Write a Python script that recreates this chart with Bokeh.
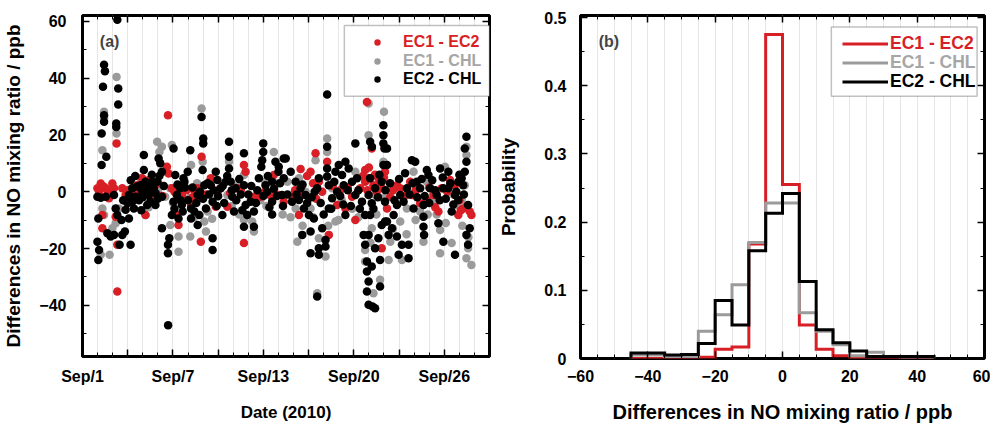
from bokeh.plotting import figure
from bokeh.models import (FixedTicker, LinearAxis, Legend, LegendItem, BoxAnnotation,
                          Label, Range1d)
from bokeh.core.properties import value
from bokeh.layouts import row
from bokeh.embed import file_html
from bokeh.resources import INLINE

# ---------------- data ----------------
# panel (a): differences in NO mixing ratio (ppb) vs days since Sep 1, 2010
ec1_ec2_day = [2.26, 5.67, 2.31, 0.99, 1.21, 1.54, 1.98, 2.09, 1.76, 1.32, 1.32, 2.31, 2.20, 2.64,
               2.86, 3.30, 3.63, 3.96, 4.40, 4.73, 4.18, 5.05, 5.60, 5.71, 5.93, 6.26, 6.37, 6.59,
               1.10, 1.40, 1.65, 1.90,
               7.90, 7.85, 10.71, 10.71, 10.82, 7.64, 7.20, 8.84, 9.61, 8.51, 10.27, 11.37, 11.81,
               13.00, 13.35, 12.69, 7.30, 7.50, 7.40,
               18.87, 19.19, 15.46, 14.47, 15.13, 16.23, 16.34, 18.10, 18.75, 18.98, 19.30, 19.63,
               19.85, 20.07, 19.52, 16.89, 17.44, 15.68, 15.90, 14.58, 13.92, 17.88, 18.43, 18.75,
               19.85, 14.36, 18.60, 19.00, 19.40, 19.70, 20.00, 18.90, 14.90, 15.30, 15.50,
               20.86, 21.08, 21.74, 21.85, 22.40, 22.84, 23.28, 23.61, 23.83, 24.38, 24.71, 25.25,
               25.69, 25.80, 24.93, 20.42, 20.20, 20.60, 21.30, 23.40, 25.50, 25.10,
               3.00, 3.50, 4.30, 5.30, 6.10, 6.90, 8.20, 9.00, 9.80, 10.50, 12.10, 12.50, 14.10,
               16.60, 17.10, 17.60, 21.50, 22.10, 23.00, 24.20, 25.00]
ec1_ec2_val = [17.0, 26.9, -35.1, 1.2, 2.9, 1.2, 2.9, 1.2, -2.3, -8.2, -12.9, -18.7, -8.8, 1.2,
               -1.2, -1.8, 2.3, 4.7, 4.1, -1.2, -8.2, 2.9, 8.8, 6.4, 1.2, -8.2, -11.7, -1.2,
               0.0, 1.8, 0.5, -0.5,
               12.3, -17.6, -18.1, 9.4, 7.0, 1.2, -4.7, -5.3, -5.3, 4.7, 1.2, -1.8, -1.8,
               -1.2, -3.5, 5.9, -2.0, -3.5, 0.5,
               31.6, 15.2, 13.5, 8.0, 7.0, 10.5, -15.2, -10.0, 7.6, 4.7, 2.3, 4.7,
               1.2, 7.0, 0.0, -4.7, -5.9, 3.5, 0.0, -1.2, -1.8, -1.8, 1.2, 3.5,
               -19.9, -8.2, 5.5, 8.5, 6.0, 3.0, 5.0, 0.5, 5.5, 3.0, -2.5,
               2.3, 1.2, 3.5, -1.2, -4.1, -2.9, -1.2, -7.0, 1.2, 4.1, 2.3, -5.9,
               -7.0, -8.2, -8.2, -1.8, -5.9, 0.5, -2.0, -5.5, -5.0, -6.5,
               0.5, -0.5, 1.5, -1.5, 0.0, 0.5, -1.0, 0.5, -0.5, 0.5, 0.0, -1.5, 0.5,
               2.0, 0.5, 1.5, -1.0, 0.5, 1.5, 0.0, -3.0]

ec1_chl_day = [2.26, 1.43, 1.43, 2.26, 1.32, 1.32, 1.21, 1.43, 1.98, 2.20, 1.21, 1.80, 2.42, 2.86,
               3.85, 4.07, 4.95, 5.27, 5.10, 5.38, 5.93, 5.82, 6.37, 6.37, 5.82, 5.49, 4.62, 4.18,
               7.90, 7.97, 7.15, 8.08, 8.19, 8.30, 8.95, 9.61, 9.72, 10.71, 10.71, 11.26, 11.37,
               12.14, 12.69, 12.69, 13.28, 7.20, 7.09, 10.27,
               18.98, 20.00, 18.98, 16.23, 16.23, 15.46, 14.36, 14.14, 14.25, 15.68, 16.12, 15.57,
               16.78, 16.98, 18.75, 18.75, 19.30, 19.74, 19.19, 19.41, 19.96, 19.96, 18.10, 16.56,
               14.80, 15.13, 13.59,
               25.47, 25.47, 25.36, 25.58, 25.80, 25.47, 23.72, 23.72, 24.49, 23.28, 22.40, 21.52,
               21.08, 20.42, 20.31, 21.19, 22.62, 24.82, 25.15, 22.84, 24.05, 21.96,
               3.40, 4.40, 5.00, 6.00, 7.40, 7.60, 8.60, 9.10, 9.90, 10.40, 11.80, 12.20, 12.90,
               13.80, 14.60, 15.30, 16.30, 17.20, 17.90, 18.30, 19.10, 19.50, 20.60, 21.50, 22.10,
               22.90, 23.50, 24.10, 24.60, 25.20, 25.60]
ec1_chl_val = [40.4, 28.1, 25.8, 20.5, 14.6, -5.9, 1.2, -8.2, -12.9, -11.1, -22.2, -22.2, -5.9, -3.5,
               4.7, 3.5, 17.6, 15.8, 14.0, 7.0, 16.4, 1.2, -15.8, -21.1, -11.7, -1.8, -2.3, -8.2,
               29.3, 10.5, -15.8, -10.5, -14.0, -7.0, -1.8, -1.2, 10.5, 5.9, -10.0, -10.5, -14.0,
               3.5, 14.0, -1.8, -8.0, 9.4, -2.3, 2.3,
               31.0, 28.1, 19.9, 18.7, 14.0, 11.1, 4.7, -5.9, -17.6, -16.4, -22.8, -35.7,
               -10.5, -10.0, -20.5, -24.6, -35.7, -31.0, -12.9, -1.2, -2.3, 10.5, 7.0, 1.2,
               0.0, -5.9, 3.5,
               15.8, 12.9, 2.3, -19.9, -25.8, -23.4, -21.7, -13.5, -18.1, -3.5, -7.0, -5.9,
               -10.5, -17.6, -24.0, -24.0, -17.6, -4.7, -2.9, 3.5, 8.8, 7.0,
               1.0, -5.5, 0.5, -4.0, -9.0, 3.0, -9.5, 1.0, -5.0, -8.0, -3.0, -5.0, 3.0,
               -9.0, -12.0, -9.0, -12.0, -3.0, -6.0, -9.0, -18.0, -8.0, -13.0, -15.0, -10.0,
               -8.0, -8.0, -11.0, -1.0, -12.0, -16.0]

ec2_chl_day = [2.31, 1.43, 1.49, 1.36, 2.37, 2.37, 1.43, 1.43, 2.24, 2.24, 1.27, 1.58, 1.27, 0.99,
               1.21, 1.54, 1.05, 0.99, 1.05, 1.10, 1.65, 1.87, 2.09, 2.46, 2.59, 2.86, 2.81, 3.19,
               2.64, 2.09, 2.20, 2.31, 3.08, 3.30, 3.52, 3.63, 3.30, 3.08, 3.41, 3.85, 4.07, 4.07,
               4.18, 4.40, 4.40, 3.96, 4.62, 4.73, 4.95, 5.05, 5.16, 5.27, 5.27, 4.84, 4.29, 5.27,
               5.67, 5.67, 5.76, 5.93, 6.04, 6.15, 6.04, 6.26, 6.48, 6.59, 6.37, 6.70, 5.68,
               7.90, 8.01, 8.01, 7.15, 7.97, 8.84, 8.95, 8.51, 9.17, 9.50, 8.08, 7.64, 7.20, 7.42,
               7.75, 7.20, 7.64, 8.19, 8.63, 8.63, 8.63, 9.28, 9.72, 9.72, 9.72, 9.83, 9.94, 10.05,
               10.16, 10.71, 10.71, 10.82, 10.93, 11.37, 11.37, 10.71, 11.15, 11.70, 11.86, 11.92,
               11.99, 11.99, 12.14, 12.25, 12.58, 12.58, 12.58, 12.80, 13.00, 13.02, 13.35, 13.35,
               13.24, 6.98, 6.76,
               16.23, 16.23, 16.23, 16.23, 16.34, 18.10, 19.20, 19.08, 19.96, 19.96, 19.96, 20.03,
               13.48, 13.81, 14.14, 14.47, 14.80, 14.36, 14.69, 15.02, 15.35, 15.13, 14.58, 15.13,
               15.68, 15.68, 16.12, 16.12, 15.90, 15.57, 15.57, 15.68, 16.78, 17.00, 17.22, 17.44,
               17.66, 17.33, 16.89, 17.88, 18.10, 18.21, 16.56, 17.44, 16.34, 18.65, 18.75, 18.87,
               18.87, 18.98, 18.87, 18.98, 19.24, 19.41, 19.19, 19.41, 19.63, 19.74, 19.74, 18.98,
               19.08, 19.19, 18.98, 19.08, 19.41, 19.85, 20.07, 20.07, 19.85, 18.54, 18.75, 19.96,
               25.47, 25.36, 25.47, 25.36, 25.25, 25.58, 25.69, 25.58, 25.47, 21.85, 22.07, 22.84,
               22.95, 23.72, 24.27, 24.93, 25.15, 24.71, 23.94, 23.50, 22.40, 22.18, 21.52, 21.08,
               20.86, 20.64, 20.53, 20.86, 21.19, 21.63, 21.63, 20.97, 20.31, 20.20, 22.62, 22.62,
               22.66, 23.61, 23.94, 24.71, 22.62, 21.96, 24.49, 24.93, 23.06, 24.27, 20.20, 20.20,
               3.20, 3.50, 3.75, 4.00, 4.20, 4.50, 4.60, 4.85, 5.00, 5.10, 5.40, 3.00, 2.70, 3.90,
               6.10, 6.30, 6.50, 6.65, 6.80,
               7.00, 7.30, 7.55, 7.80, 8.00, 8.30, 8.40, 8.70, 8.90, 9.00, 9.30, 9.40, 9.60, 9.90,
               10.20, 10.40, 10.50, 10.60, 11.00, 11.20, 11.50, 11.60, 12.00, 12.30, 12.40, 12.70,
               12.90, 13.10, 13.30,
               13.60, 13.90, 14.20, 14.60, 14.90, 15.20, 15.40, 15.80, 16.00, 16.50, 16.70, 17.10,
               17.30, 17.60, 17.80, 18.30, 18.40, 19.30, 19.60, 19.70, 20.10,
               20.40, 20.70, 21.00, 21.30, 21.40, 21.70, 21.90, 22.20, 22.50, 22.70, 23.00, 23.20,
               23.40, 23.70, 23.90, 24.10, 24.40, 24.60, 24.80, 25.00, 25.30]
ec2_chl_val = [60.5, 44.7, 42.4, 36.9, 36.3, 30.7, 26.9, 24.6, 24.0, 22.8, 20.5, 12.3, 9.4, -1.8,
               -2.1, -1.8, -9.4, -17.6, -24.0, -20.5, -14.6, -15.8, -15.2, -18.7, -10.0, -6.4, -14.0, -18.7,
               -15.2, -1.2, -5.9, -8.2, -1.2, 1.2, -1.8, 1.8, -3.5, -9.4, -5.9, 2.3, 12.9, 7.6,
               3.5, 1.2, -1.2, 0.0, 3.5, 1.2, 3.5, 11.7, 10.0, 7.0, -1.8, -4.7, -4.7, -12.9,
               -18.7, -21.7, -16.4, -8.2, -3.5, 5.9, 15.2, -1.2, 1.2, -4.7, -9.4, 4.7, -47.0,
               26.3, 18.7, 17.0, 14.6, 7.6, 7.0, 4.1, 2.3, 1.2, 3.5, 2.3, -1.2, -5.9, -7.0,
               -8.2, -9.4, -11.7, -5.9, -3.5, -16.4, -20.5, -8.2, 17.6, 12.3, 8.2, 3.5, -1.8, -7.0,
               1.2, 13.5, 2.3, -4.7, -8.2, -7.0, -12.3, -12.3, -3.5, 4.7, 8.8, 11.1,
               17.0, 14.0, 2.3, 0.0, 3.5, -3.5, -8.0, 10.5, 7.0, 8.8, 11.7, 4.7,
               -1.2, 7.0, 3.5,
               34.2, 15.8, 8.2, 5.3, 2.3, 17.0, 15.8, 17.6, 23.4, 19.9, 17.0, 15.2,
               11.7, 7.0, 3.5, 1.2, -1.2, -2.9, -5.9, -8.2, -9.4, -14.0, -15.2, -21.7,
               -19.9, -22.2, -17.0, -19.3, -12.9, -36.9, 1.2, 4.7, 7.0, 9.4, 5.9, 10.5,
               8.2, 2.3, 0.0, 3.5, -1.2, 4.7, -2.3, -8.2, -5.9, -15.2, -18.7, -24.6,
               -28.1, -31.6, -35.1, -39.8, -40.4, -41.0, -26.3, -19.9, -16.4, -24.0, -33.4, -15.2,
               -8.2, -4.1, -1.2, 4.7, 1.2, 3.5, -3.5, -10.5, -11.7, -3.5, -8.2, 9.4,
               19.3, 15.2, 10.5, 7.0, 2.3, -4.7, -12.9, -18.7, -15.2, 11.1, 10.5, 7.6,
               5.9, 8.2, 7.0, 3.5, 4.7, -1.2, 1.2, -1.2, 1.2, 3.5, 1.2, -1.2,
               -4.7, -8.2, -12.9, -15.8, -18.7, -18.7, -23.4, -22.2, -15.2, -10.5, -8.8, -12.3,
               -15.2, -11.1, -17.6, -22.2, -4.7, -5.9, -7.0, -2.9, 1.2, 1.2, 9.4, 15.2,
               4.0, 5.5, -3.0, -2.0, 0.5, -3.5, 6.0, -0.5, -2.5, 5.5, 2.0, -4.0, -3.0, -6.5,
               -6.0, 2.5, -3.0, -7.0, 1.5,
               -3.0, 1.5, -4.0, 0.0, -2.5, 3.0, -1.0, 0.5, -5.0, -1.5, 2.0, -4.0, 5.5, 0.5,
               -3.0, 4.5, -1.0, -6.5, -1.0, 2.0, -4.0, 0.5, -1.5, 5.5, -5.5, 1.0,
               -1.5, 3.0, -5.0,
               -1.0, -3.5, -1.0, 2.5, -4.0, -2.0, 0.0, -4.0, -8.0, -6.0, 3.5, -1.5,
               -4.5, 0.5, -5.0, 0.5, -6.0, -6.0, -2.0, 6.0, 0.5,
               3.0, -3.0, 4.5, -3.5, 6.5, -1.0, 3.0, -2.0, 4.5, -1.5, -4.0, 4.0,
               0.5, -3.0, 5.0, -2.5, 3.0, -4.5, 0.0, 6.0, -1.0]

date_tick_days = [0, 3, 6, 9, 12, 15, 18, 21, 24, 27]
date_tick_labels = ["Sep/1", "", "Sep/7", "", "Sep/13", "", "Sep/20", "", "Sep/26", ""]

# panel (b): probability histograms, 5 ppb bins
bin_edges = [-45, -40, -35, -30, -25, -20, -15, -10, -5, 0, 5, 10, 15, 20, 25, 30, 35, 40, 45]
prob_ec1_ec2 = [0.0, 0.0, 0.001, 0.001, 0.002, 0.0135, 0.017, 0.168, 0.475, 0.255, 0.049,
                0.0135, 0.004, 0.001, 0.0, 0.0, 0.0, 0.0]
prob_ec1_chl = [0.005, 0.005, 0.003, 0.003, 0.040, 0.064, 0.108, 0.170, 0.228, 0.228, 0.067,
                0.040, 0.020, 0.004, 0.009, 0.003, 0.002, 0.002]
prob_ec2_chl = [0.008, 0.008, 0.005, 0.006, 0.022, 0.085, 0.049, 0.158, 0.213, 0.242, 0.113,
                0.042, 0.023, 0.011, 0.003, 0.003, 0.003, 0.003]

series_labels = ["EC1 - EC2", "EC1 - CHL", "EC2 - CHL"]

# ---------------- style ----------------
FONT = "Liberation Sans"
RED = "#d81f26"
GRAY = "#9b9b9b"
BLACK = "#000000"
TEXT_COLORS = [RED, "#a6a6a6", BLACK]
GRID = "#e6e6e6"


def style_axis(ax, label_size="16px", standoff=14):
    ax.axis_line_color = None
    ax.major_tick_in = 7
    ax.major_tick_out = 0
    ax.minor_tick_in = 4
    ax.minor_tick_out = 0
    ax.major_tick_line_color = "black"
    ax.major_tick_line_width = 1.5
    ax.minor_tick_line_color = "black"
    ax.minor_tick_line_width = 1
    ax.major_label_text_font = FONT
    ax.major_label_text_font_style = "bold"
    ax.major_label_text_font_size = label_size
    ax.major_label_text_color = "black"
    ax.major_label_standoff = standoff
    ax.axis_label_text_font = FONT
    ax.axis_label_text_font_style = "bold"
    ax.axis_label_text_color = "black"


def mirror(p, ticker, place, loc):
    ax = LinearAxis(ticker=ticker, fixed_location=loc)
    style_axis(ax, label_size="0px", standoff=0)
    ax.major_label_text_alpha = 0
    p.add_layout(ax, place)


def add_legend_row(p, renderer, label, color, vx, vy, glyph_w, gh, standoff, size):
    lg = Legend(items=[LegendItem(label=value(label), renderers=[renderer])],
                location=(vx, vy), orientation="vertical", border_line_color=None,
                background_fill_alpha=0, padding=0, margin=0, spacing=0,
                glyph_width=glyph_w, glyph_height=gh, label_height=gh,
                label_standoff=standoff, label_text_font=FONT,
                label_text_font_style="bold", label_text_font_size=size,
                label_text_color=color)
    p.add_layout(lg)


# ---------------- panel (a) ----------------
X1 = (0, 27)
Y1 = (-58, 62)
p1 = figure(width=495, height=424, x_range=Range1d(*X1), y_range=Range1d(*Y1),
            output_backend="svg", toolbar_location=None,
            min_border_left=79, min_border_right=6, min_border_top=15, min_border_bottom=67)
p1.outline_line_color = "black"
p1.outline_line_width = 3

xt1 = FixedTicker(ticks=date_tick_days, minor_ticks=list(range(0, 28)))
yt1 = FixedTicker(ticks=[-40, -20, 0, 20, 40, 60], minor_ticks=list(range(-50, 61, 10)))
p1.xaxis.ticker = xt1
p1.yaxis.ticker = yt1
p1.xaxis.major_label_overrides = {d: t for d, t in zip(date_tick_days, date_tick_labels)}
style_axis(p1.xaxis[0], standoff=11)
style_axis(p1.yaxis[0], standoff=16)
p1.xaxis.axis_label = "Date (2010)"
p1.xaxis.axis_label_text_font_size = "17px"
p1.xaxis.axis_label_standoff = 15
p1.yaxis.axis_label = "Differences in NO mixing ratio / ppb"
p1.yaxis.axis_label_text_font_size = "19px"
p1.yaxis.axis_label_standoff = 12
p1.xgrid.ticker = xt1
p1.xgrid.grid_line_color = GRID
p1.xgrid.minor_grid_line_color = GRID
p1.ygrid.visible = False
mirror(p1, xt1, "above", Y1[1])
mirror(p1, yt1, "right", X1[1])

r_gray = p1.scatter(ec1_chl_day, ec1_chl_val, size=8.5, fill_color=GRAY, line_color=None)
r_red = p1.scatter(ec1_ec2_day, ec1_ec2_val, size=8.5, fill_color=RED, line_color=None)
r_black = p1.scatter(ec2_chl_day, ec2_chl_val, size=8.5, fill_color=BLACK, line_color=None)

p1.add_layout(BoxAnnotation(left=17.37, right=27, top=58.5, bottom=33.6, fill_color="white",
                            fill_alpha=1, line_color="#333333", line_width=1.5))
for rend, lab, col, vy in zip([r_red, r_gray, r_black], series_labels, TEXT_COLORS,
                              [305.5, 286, 268]):
    add_legend_row(p1, rend, lab, col, 287, vy, 16, 18, 18, "16px")

p1.add_layout(Label(x=1.15, y=52.9, text="(a)", text_font=FONT, text_font_style="bold",
                    text_font_size="16px", text_baseline="middle", text_align="left"))

# ---------------- panel (b) ----------------
X2 = (-60, 60)
Y2 = (0, 0.503)
p2 = figure(width=495, height=426, x_range=Range1d(*X2), y_range=Range1d(*Y2),
            output_backend="svg", toolbar_location=None,
            min_border_left=79, min_border_right=6, min_border_top=15, min_border_bottom=65)
p2.outline_line_color = "black"
p2.outline_line_width = 3

xt2 = FixedTicker(ticks=list(range(-60, 61, 20)), minor_ticks=list(range(-60, 61, 5)))
yt2 = FixedTicker(ticks=[0, 0.1, 0.2, 0.3, 0.4, 0.5],
                  minor_ticks=[0.05 * i for i in range(11)])
p2.xaxis.ticker = xt2
p2.yaxis.ticker = yt2
p2.yaxis.major_label_overrides = {0: "0"}
style_axis(p2.xaxis[0], standoff=11)
style_axis(p2.yaxis[0], standoff=14)
p2.xaxis.axis_label = "Differences in NO mixing ratio / ppb"
p2.xaxis.axis_label_text_font_size = "20px"
p2.xaxis.axis_label_standoff = 16
p2.yaxis.axis_label = "Probability"
p2.yaxis.axis_label_text_font_size = "19px"
p2.yaxis.axis_label_standoff = 22
p2.xgrid.ticker = xt2
p2.xgrid.grid_line_color = GRID
p2.xgrid.minor_grid_line_color = GRID
p2.ygrid.visible = False
mirror(p2, xt2, "above", Y2[1])
mirror(p2, yt2, "right", X2[1])

step_x = [bin_edges[0]] + bin_edges
rends = []
for probs, col in zip([prob_ec1_ec2, prob_ec1_chl, prob_ec2_chl], [RED, GRAY, BLACK]):
    r = p2.step(step_x, [0] + probs + [0], mode="after", line_color=col, line_width=3,
                line_join="miter")
    rends.append(r)

p2.add_layout(BoxAnnotation(left=14.5, right=57.8, top=0.486, bottom=0.3845,
                            fill_color="white", fill_alpha=1, line_color="#333333",
                            line_width=1.5))
for rend, lab, col, vy in zip(rends, series_labels, TEXT_COLORS, [304, 285.5, 266.5]):
    add_legend_row(p2, rend, lab, col, 262, vy, 46, 19, 2, "17.5px")

p2.add_layout(Label(x=-54.6, y=0.4655, text="(b)", text_font=FONT, text_font_style="bold",
                    text_font_size="16px", text_baseline="middle", text_align="left"))

layout = row(p1, p2)
open("out.html", "w").write(file_html(layout, INLINE))
